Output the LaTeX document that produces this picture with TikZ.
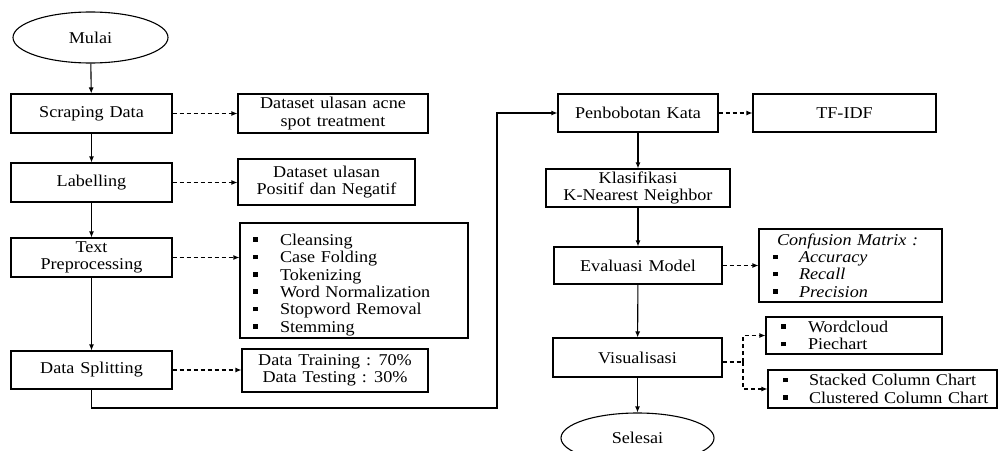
\documentclass[tikz,border=0pt]{standalone}
\usepackage{fontspec}
\setmainfont{Liberation Serif}[FakeStretch=1.1,WordSpace=1.3]
\usetikzlibrary{shapes.geometric,arrows.meta}
\newcommand\sqbul[1]{\makebox[#1][l]{\rule[3.5pt]{4.5pt}{4.5pt}}}
\begin{document}
\begin{tikzpicture}[x=1pt,y=-1pt,
  every node/.style={font=\fontsize{16.5}{17.4}\selectfont},
  box/.style={draw, line width=1.1pt, rectangle, inner sep=0pt, align=center},
  oval/.style={draw, line width=1.1pt, ellipse, inner sep=0pt},
  listbox/.style={box, align=left, inner sep=0pt},
  arr/.style={-{Latex[length=6pt,width=5pt]}, line width=1.1pt},
  dasharr/.style={arr, dash pattern=on 4pt off 3pt},
  dashline/.style={line width=1.1pt, dash pattern=on 4pt off 3pt}]
\useasboundingbox (0,0) rectangle (998,450);
\clip (0,0) rectangle (998,450);
\fill[white] (0,0) rectangle (998,450);

% left column
\node[oval, minimum width=155pt, minimum height=51pt] (mulai) at (90.5,37.5) {Mulai};
\node[box, minimum width=161pt, minimum height=39pt] (scrap) at (91.5,113.5) {Scraping Data};
\node[box, minimum width=161pt, minimum height=39pt] (label) at (91.5,182.5) {Labelling};
\node[box, minimum width=161pt, minimum height=39pt] (textp) at (91.5,257.5) {Text\\Preprocessing};
\node[box, minimum width=161pt, minimum height=38pt] (split) at (91.5,370) {Data Splitting};

% left outputs
\node[box, minimum width=190pt, minimum height=39pt] (acne) at (333,113.5) {Dataset ulasan acne\\spot treatment};
\node[box, minimum width=177pt, minimum height=46pt] (posneg) at (326.5,182) {Dataset ulasan\\Positif dan Negatif};
\node[listbox, text width=228pt, minimum height=115pt] (prep) at (354,280.5)
  {\rule{0pt}{20pt}\hspace*{13pt}\sqbul{27pt}Cleansing\\\hspace*{13pt}\sqbul{27pt}Case Folding\\\hspace*{13pt}\sqbul{27pt}Tokenizing\\\hspace*{13pt}\sqbul{27pt}Word Normalization\\\hspace*{13pt}\sqbul{27pt}Stopword Removal\\\hspace*{13pt}\sqbul{27pt}Stemming};
\node[box, minimum width=186pt, minimum height=43pt] (train) at (335,370.5) {Data Training : 70\%\\Data Testing : 30\%};

% right column
\node[box, minimum width=160pt, minimum height=38pt] (bobot) at (638,113) {Penbobotan Kata};
\node[box, minimum width=183pt, minimum height=38pt] (tfidf) at (844.5,113) {TF-IDF};
\node[box, minimum width=184pt, minimum height=38pt] (knn) at (638,188) {Klasifikasi\\K-Nearest Neighbor};
\node[box, minimum width=168pt, minimum height=37pt] (eval) at (638,265.5) {Evaluasi Model};
\node[listbox, text width=183pt, minimum height=73pt] (conf) at (850.5,265.5)
  {\hspace*{18pt}\textit{Confusion Matrix :}\\\hspace*{14pt}\sqbul{26pt}\textit{Accuracy}\\\hspace*{14pt}\sqbul{26pt}\textit{Recall}\\\hspace*{14pt}\sqbul{26pt}\textit{Precision}};
\node[box, minimum width=169pt, minimum height=39pt] (vis) at (637.5,357.5) {Visualisasi};
\node[listbox, text width=176pt, minimum height=37pt] (wc) at (854,335.5)
  {\hspace*{15pt}\sqbul{27pt}Wordcloud\\\hspace*{15pt}\sqbul{27pt}Piechart};
\node[listbox, text width=229pt, minimum height=38pt] (sc) at (882.5,389)
  {\hspace*{15pt}\sqbul{26pt}Stacked Column Chart\\\hspace*{15pt}\sqbul{26pt}Clustered Column Chart};
\node[oval, minimum width=153pt, minimum height=50pt] (selesai) at (637.5,438) {Selesai};

% main flow
\draw[arr] (mulai) -- (scrap);
\draw[arr] (scrap) -- (label);
\draw[arr] (label) -- (textp);
\draw[arr] (textp) -- (split);
\coordinate (c1) at (91.5,408);
\coordinate (c2) at (497,408);
\coordinate (c3) at (497,113);
\draw[arr] (split.south) -- (c1) -- (c2) -- (c3) -- (bobot.west);
\draw[arr] (bobot) -- (knn);
\draw[arr] (knn) -- (eval);
\draw[arr] (eval) -- (vis);
\draw[arr] (vis) -- (selesai);

% dashed outputs
\draw[dasharr] (scrap.east) -- (acne.west);
\draw[dasharr] (label.east) -- (label.east -| posneg.west);
\draw[dasharr] (textp.east) -- (textp.east -| prep.west);
\draw[dasharr] (split.east) -- (split.east -| train.west);
\draw[dasharr] (bobot.east) -- (tfidf.west);
\draw[dasharr] (eval.east) -- (eval.east -| conf.west);
\coordinate (vj) at (743,362);
\draw[dashline] ([yshift=-4.5pt]vis.east) -- (vj);
\draw[dasharr] (vj) |- (wc.west);
\draw[dasharr] (vj) |- (sc.west);
\end{tikzpicture}
\end{document}
